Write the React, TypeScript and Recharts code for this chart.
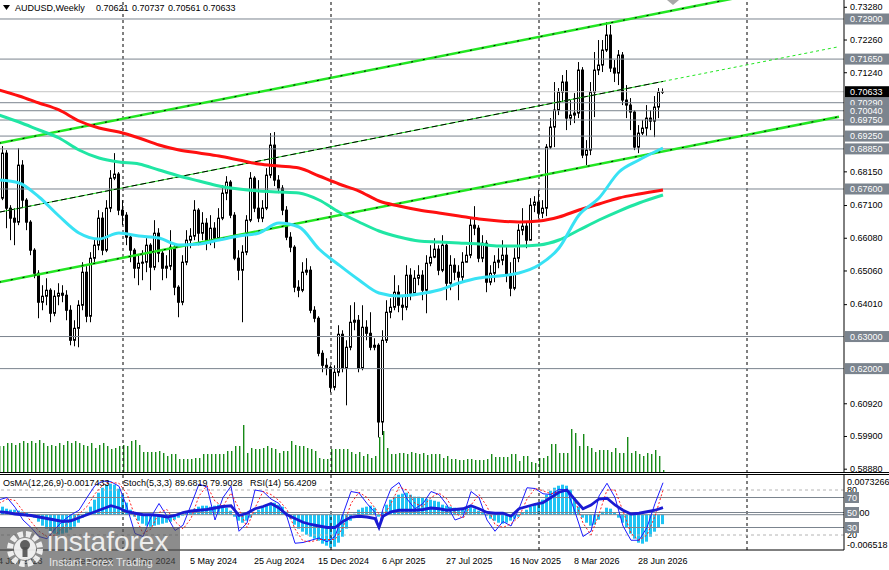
import React from "react";
import { ComposedChart, Bar, Line, XAxis, YAxis, ReferenceLine } from "recharts";

// AUDUSD weekly, index 0 = week of 4 Jun 2023
const closes = [
    0.67314, 0.68718, 0.67002, 0.66690, 0.66566, 0.68344, 0.67252, 0.66566, 0.65692, 0.64974,
    0.64070, 0.64257, 0.64444, 0.63726, 0.64257, 0.64350, 0.64288, 0.63820, 0.62884, 0.63258,
    0.63976, 0.65006, 0.63633, 0.65442, 0.65848, 0.66690, 0.65692, 0.67002, 0.67938, 0.68064,
    0.66940, 0.66784, 0.66098, 0.65692, 0.65130, 0.65286, 0.65318, 0.65848, 0.65162, 0.66222,
    0.65598, 0.65130, 0.65193, 0.65786, 0.64538, 0.64070, 0.65318, 0.66004, 0.66130, 0.66940,
    0.66222, 0.66534, 0.65942, 0.66378, 0.66066, 0.66690, 0.67470, 0.67814, 0.66784, 0.65442,
    0.65068, 0.65630, 0.66628, 0.67938, 0.67002, 0.66690, 0.67002, 0.68032, 0.68968, 0.67876,
    0.67626, 0.66940, 0.66098, 0.65786, 0.64538, 0.64444, 0.65006, 0.65068, 0.63820, 0.63570,
    0.62478, 0.62104, 0.62042, 0.61418, 0.61886, 0.63071, 0.62010, 0.62666, 0.63446, 0.63508,
    0.62010, 0.63290, 0.63102, 0.62666, 0.62728, 0.60336, 0.62884, 0.63758, 0.63914, 0.64382,
    0.63976, 0.63914, 0.64912, 0.64350, 0.64818, 0.64912, 0.64444, 0.65286, 0.65474, 0.65724,
    0.65068, 0.65848, 0.64662, 0.65224, 0.65006, 0.64850, 0.65318, 0.65536, 0.66472, 0.66378,
    0.65442, 0.65910, 0.64694, 0.64974, 0.65318, 0.65380, 0.65536, 0.64912, 0.64506, 0.65442,
    0.66316, 0.66441, 0.66004, 0.67096, 0.67190, 0.66846, 0.67002, 0.68906, 0.69530, 0.70060,
    0.70622, 0.70934, 0.69810, 0.69904, 0.69966, 0.71308, 0.68656, 0.68812, 0.70622, 0.71308,
    0.71464, 0.71932, 0.72400, 0.71370, 0.71214, 0.71776, 0.70372, 0.70216, 0.69998, 0.68906,
    0.69342, 0.69498, 0.69810, 0.69717, 0.70154, 0.70621, 0.70633,
];
const highs = [
    0.67564, 0.68937, 0.68812, 0.67096, 0.67002, 0.68874, 0.68500, 0.67314, 0.66628, 0.65754,
    0.65068, 0.64600, 0.64818, 0.64506, 0.64444, 0.64662, 0.64600, 0.64444, 0.63976, 0.63508,
    0.64132, 0.65318, 0.65193, 0.65630, 0.66066, 0.66940, 0.66878, 0.67252, 0.68188, 0.68718,
    0.68126, 0.67252, 0.66878, 0.66160, 0.65754, 0.65536, 0.65692, 0.66066, 0.65910, 0.66628,
    0.66378, 0.65692, 0.65536, 0.66316, 0.65848, 0.64600, 0.65536, 0.66316, 0.66378, 0.67252,
    0.67002, 0.66878, 0.66690, 0.66784, 0.66566, 0.67002, 0.67720, 0.68000, 0.67876, 0.66878,
    0.65692, 0.65848, 0.66784, 0.68126, 0.68000, 0.67876, 0.67252, 0.68250, 0.69342, 0.69374,
    0.68032, 0.67720, 0.67065, 0.66254, 0.65848, 0.64756, 0.65318, 0.65442, 0.65193, 0.63945,
    0.63633, 0.62572, 0.62322, 0.62104, 0.62104, 0.63352, 0.63196, 0.62884, 0.63976, 0.64070,
    0.63671, 0.63976, 0.63508, 0.63758, 0.62946, 0.62790, 0.63196, 0.64132, 0.64194, 0.64912,
    0.64600, 0.64288, 0.65224, 0.65130, 0.65068, 0.65224, 0.65068, 0.65536, 0.65848, 0.66066,
    0.65848, 0.66160, 0.65910, 0.65536, 0.65442, 0.65224, 0.65630, 0.65817, 0.66690, 0.67065,
    0.66472, 0.66160, 0.66004, 0.65224, 0.65536, 0.65754, 0.66004, 0.65786, 0.65318, 0.65754,
    0.66503, 0.67002, 0.66566, 0.67314, 0.67377, 0.67564, 0.67252, 0.68999, 0.69810, 0.70934,
    0.70746, 0.71152, 0.71308, 0.70372, 0.70590, 0.71558, 0.71400, 0.69124, 0.70934, 0.71870,
    0.72244, 0.72244, 0.72806, 0.72712, 0.71620, 0.71932, 0.71870, 0.70840, 0.70434, 0.70060,
    0.69592, 0.69748, 0.70216, 0.70060, 0.70497, 0.70746, 0.70737,
];
const lows = [
    0.67096, 0.67252, 0.66378, 0.66004, 0.65848, 0.66472, 0.67002, 0.66316, 0.65536, 0.64818,
    0.63570, 0.63820, 0.63976, 0.63446, 0.63633, 0.63976, 0.64070, 0.63508, 0.62728, 0.62697,
    0.62666, 0.63820, 0.63446, 0.63446, 0.65318, 0.65692, 0.65536, 0.65630, 0.66878, 0.67876,
    0.66784, 0.66472, 0.65848, 0.65318, 0.64818, 0.64600, 0.64756, 0.65006, 0.64444, 0.65068,
    0.65318, 0.64756, 0.64818, 0.65068, 0.64288, 0.63602, 0.63976, 0.65224, 0.65754, 0.66004,
    0.65848, 0.66004, 0.65692, 0.65848, 0.65754, 0.66004, 0.66628, 0.67252, 0.66690, 0.65380,
    0.64756, 0.63446, 0.65536, 0.66566, 0.66878, 0.66566, 0.66566, 0.66940, 0.67938, 0.67690,
    0.67470, 0.66784, 0.66004, 0.65630, 0.64382, 0.64226, 0.64382, 0.64912, 0.63726, 0.63446,
    0.62385, 0.61886, 0.61792, 0.61262, 0.61324, 0.61761, 0.61886, 0.60856, 0.62572, 0.63196,
    0.61886, 0.61948, 0.62884, 0.62572, 0.62572, 0.59854, 0.59930, 0.62800, 0.63570, 0.63820,
    0.63758, 0.63508, 0.63820, 0.64132, 0.64288, 0.64600, 0.64132, 0.63726, 0.65193, 0.65442,
    0.64912, 0.65006, 0.64132, 0.64444, 0.64756, 0.64132, 0.64694, 0.65318, 0.65442, 0.66160,
    0.65318, 0.65318, 0.64382, 0.64600, 0.64694, 0.65130, 0.65224, 0.64694, 0.64257, 0.64444,
    0.65318, 0.66160, 0.65754, 0.66004, 0.66878, 0.66690, 0.66690, 0.66753, 0.68850, 0.68906,
    0.69904, 0.70310, 0.69436, 0.69592, 0.69654, 0.69810, 0.68562, 0.68344, 0.68656, 0.69842,
    0.71152, 0.71246, 0.71870, 0.71246, 0.70934, 0.70840, 0.70216, 0.69810, 0.69436, 0.68812,
    0.68718, 0.69280, 0.69248, 0.69436, 0.69218, 0.69810, 0.70561,
];
const firstOpen = 0.67252;

// tick volume, thousands
const volumes = [
    27, 27, 30, 30, 28, 30, 32, 30, 32, 30,
    33, 30, 27, 28, 27, 30, 28, 32, 30, 32,
    30, 28, 27, 30, 25, 28, 30, 27, 24, 25,
    27, 28, 27, 32, 33, 28, 21, 21, 21, 21,
    22, 20, 17, 19, 19, 14, 14, 14, 14, 15,
    15, 19, 19, 19, 19, 19, 19, 22, 22, 27,
    27, 48, 20, 25, 24, 24, 25, 27, 25, 24,
    20, 22, 22, 32, 28, 27, 27, 25, 24, 22,
    15, 14, 14, 24, 24, 24, 24, 24, 21, 19,
    21, 17, 19, 15, 17, 36, 42, 25, 19, 19,
    20, 20, 19, 21, 20, 19, 20, 18, 19, 19,
    19, 15, 17, 14, 14, 13, 13, 14, 14, 13,
    13, 13, 14, 19, 16, 16, 16, 16, 19, 19,
    12, 17, 17, 11, 10, 15, 15, 17, 29, 29,
    20, 20, 20, 44, 40, 27, 39, 27, 25, 21,
    23, 23, 23, 21, 25, 20, 20, 36, 20, 22,
    19, 17, 20, 19, 23, 17, 3,
];

// moving averages, read every 5 weeks
const maIdx = [0, 5, 10, 15, 20, 25, 30, 35, 40, 45, 50, 55, 60, 65, 70, 75, 80, 85, 90, 95, 100, 105, 110, 115, 120, 125, 130, 135, 140, 145, 150, 155, 160, 166];
const maSlow = [
    0.70686, 0.70499, 0.70281, 0.70063, 0.69720, 0.69501, 0.69377, 0.69190, 0.68971, 0.68816,
    0.68722, 0.68628, 0.68504, 0.68379, 0.68317, 0.68254, 0.68005, 0.67756, 0.67537, 0.67226,
    0.67070, 0.66945, 0.66851, 0.66758, 0.66664, 0.66602, 0.66571, 0.66602, 0.66727, 0.66945,
    0.67132, 0.67319, 0.67444, 0.67568,
];
const maMid = [
    0.69907, 0.69688, 0.69439, 0.69190, 0.68816, 0.68566, 0.68441, 0.68379, 0.68192, 0.68005,
    0.67849, 0.67693, 0.67599, 0.67537, 0.67506, 0.67475, 0.67257, 0.66883, 0.66571, 0.66291,
    0.66104, 0.65979, 0.65948, 0.65916, 0.65885, 0.65823, 0.65823, 0.65854, 0.66010, 0.66321,
    0.66633, 0.66912, 0.67163, 0.67413,
];
const maFast = [
    0.67880, 0.67787, 0.67350, 0.66758, 0.66228, 0.66041, 0.66228, 0.66134, 0.66072, 0.65854,
    0.65885, 0.66010, 0.66134, 0.66228, 0.66540, 0.66415, 0.65729, 0.65230, 0.64762, 0.64357,
    0.64264, 0.64326, 0.64451, 0.64669, 0.64825, 0.64887, 0.64981, 0.65230, 0.65762, 0.66789,
    0.67319, 0.68130, 0.68504, 0.68878,
];

const osma = [
    0.00148, 0.00148, 0.00111, 0.00092, 0.00092, 0.00074, 0.00055, 0.00037, 0.00009, -0.00055,
    -0.00129, -0.00203, -0.00258, -0.00314, -0.00351, -0.00369, -0.00351, -0.00332, -0.00277, -0.00222,
    -0.00148, -0.00055, 0.00055, 0.00148, 0.00277, 0.00406, 0.00498, 0.00554, 0.00572, 0.00554,
    0.00480, 0.00369, 0.00222, 0.00092, -0.00037, -0.00111, -0.00166, -0.00203, -0.00222, -0.00203,
    -0.00185, -0.00166, -0.00148, -0.00129, -0.00092, -0.00055, -0.00018, 0.00037, 0.00074, 0.00111,
    0.00148, 0.00166, 0.00166, 0.00148, 0.00166, 0.00185, 0.00148, 0.00129, 0.00074, -0.00037,
    -0.00111, -0.00148, -0.00111, -0.00055, 0.00037, 0.00092, 0.00148, 0.00185, 0.00203, 0.00222,
    0.00185, 0.00148, 0.00055, -0.00074, -0.00185, -0.00258, -0.00314, -0.00369, -0.00406, -0.00443,
    -0.00480, -0.00535, -0.00572, -0.00609, -0.00591, -0.00517, -0.00406, -0.00258, -0.00111, 0.00018,
    0.00092, 0.00129, 0.00148, 0.00166, 0.00129, -0.00037, 0.00055, 0.00185, 0.00277, 0.00332,
    0.00369, 0.00388, 0.00406, 0.00369, 0.00332, 0.00332, 0.00314, 0.00295, 0.00277, 0.00258,
    0.00240, 0.00185, 0.00166, 0.00148, 0.00129, 0.00111, 0.00111, 0.00129, 0.00148, 0.00111,
    0.00074, 0.00037, -0.00018, -0.00074, -0.00111, -0.00148, -0.00166, -0.00148, -0.00111, -0.00074,
    -0.00037, 0.00037, 0.00092, 0.00148, 0.00185, 0.00222, 0.00277, 0.00369, 0.00443, 0.00498,
    0.00535, 0.00554, 0.00535, 0.00462, 0.00314, 0.00148, -0.00055, -0.00148, -0.00203, -0.00185,
    -0.00092, 0.00055, 0.00129, 0.00111, 0.00037, -0.00055, -0.00148, -0.00240, -0.00351, -0.00443,
    -0.00517, -0.00535, -0.00498, -0.00406, -0.00314, -0.00240, -0.0017433,
];

// oscillators, read every 2 weeks
const oscIdx = [
    0, 2, 4, 6, 8, 10, 12, 14, 16, 18, 20, 22, 24, 26, 28, 30, 32, 34, 36, 38,
    40, 42, 44, 46, 48, 50, 52, 54, 56, 58, 60, 62, 64, 66, 68, 70, 72, 74, 76, 78,
    80, 82, 84, 86, 88, 90, 92, 94, 95, 96, 98, 100, 102, 104, 106, 108, 110, 112, 114, 116,
    118, 120, 122, 124, 126, 128, 130, 132, 134, 136, 138, 140, 142, 144, 146, 148, 150, 152, 154, 156,
    158, 160, 162, 164, 166,
];
const stochMain = [
    67, 70, 57, 40, 30, 18, 15, 28, 39, 47, 53, 70, 86, 92, 91, 85, 57, 22, 18, 44,
    62, 45, 26, 33, 60, 88, 84, 40, 70, 85, 25, 36, 80, 78, 68, 62, 44, 9, 10, 13,
    16, 11, 18, 48, 78, 76, 62, 50, 31, 55, 82, 90, 68, 55, 62, 78, 74, 60, 40, 44,
    78, 70, 40, 25, 38, 32, 55, 83, 82, 75, 74, 81, 80, 51, 18, 25, 72, 89, 70, 32,
    13, 13, 30, 62, 89.6819,
];
const stochSignal = [
    62, 68, 66, 52, 38, 25, 18, 20, 30, 40, 48, 58, 75, 87, 90, 89, 75, 45, 22, 28,
    50, 54, 38, 28, 42, 72, 86, 65, 58, 76, 55, 30, 56, 78, 74, 66, 54, 28, 12, 11,
    14, 14, 14, 30, 62, 77, 70, 56, 48, 44, 62, 84, 80, 62, 58, 70, 76, 68, 50, 42,
    60, 74, 58, 34, 30, 35, 44, 68, 82, 79, 75, 78, 81, 66, 36, 20, 48, 80, 80, 52,
    22, 13, 20, 45, 79.9028,
];
const rsi = [
    51, 50, 48, 47, 46, 44, 42, 40, 38, 39, 43, 47, 51, 55, 59, 56, 51, 49, 47, 47,
    46, 44, 46, 50, 52, 53, 54, 56, 58, 59, 46, 49, 55, 58, 62, 56, 47, 42, 37, 34,
    32, 30, 30, 38, 44, 45, 44, 42, 30, 45, 51, 53, 53, 53, 54, 56, 55, 53, 54, 55,
    59, 55, 50, 49, 49, 45, 55, 58, 61, 63, 70, 77, 80, 67, 55, 60, 68, 69, 60, 53,
    48, 49, 51, 53, 56.4209,
];

const levels = [0.729, 0.7165, 0.7029, 0.7004, 0.6975, 0.6925, 0.6885, 0.676, 0.63, 0.62];
const bidPrice = 0.70633;
const priceTicks = [0.7328, 0.7226, 0.7124, 0.6815, 0.671, 0.6608, 0.6506, 0.6401, 0.6092, 0.599, 0.5888];
const yearStarts = [31, 83, 135, 187];
const dateIdx = [0, 16, 32, 48, 64, 80, 96, 112, 128, 144, 160];
const dateLabels = ["4 Jun 2023", "24 Sep 2023", "14 Jan 2024", "5 May 2024", "25 Aug 2024", "15 Dec 2024", "6 Apr 2025", "27 Jul 2025", "16 Nov 2025", "8 Mar 2026", "28 Jun 2026"];

// trend channel anchors [week index, price]
const channelUpper = [[0, 0.69027], [210, 0.74187]];
const channelMid = [[0, 0.66876], [166, 0.70954]];
const channelMidExt = [[166, 0.70954], [210, 0.72036]];
const channelLower = [[0, 0.64694], [210, 0.69854]];

const FONT = "Liberation Sans, Arial, sans-serif";
const FS = 9;
const X_DOMAIN = [0.25, 211.25];

const rows: any[] = closes.map((c, i) => ({
    i,
    o: i === 0 ? firstOpen : closes[i - 1],
    h: highs[i],
    l: lows[i],
    c,
    vol: volumes[i],
    osma: osma[i],
}));
maIdx.forEach((idx, k) => {
    rows[idx].slow = maSlow[k];
    rows[idx].mid = maMid[k];
    rows[idx].fast = maFast[k];
});
oscIdx.forEach((idx, k) => {
    rows[idx].stoch = stochMain[k];
    rows[idx].signal = stochSignal[k];
    rows[idx].rsi = rsi[k];
});

const seg = (pts: number[][]) => pts.map(([x, y]) => ({ x, y }));

const Candle = (props: any) => {
    const { x, y, width, height, payload } = props;
    const { o, h, l, c } = payload;
    const top = Math.min(y, y + height);
    const span = Math.abs(height);
    const py = (p: number) => (h === l ? top : top + ((h - p) / (h - l)) * span);
    const cx = Math.floor(x + width / 2) + 0.5;
    const yo = py(o);
    const yc = py(c);
    const bt = Math.min(yo, yc);
    const bb = Math.max(yo, yc);
    const up = c >= o;
    return (
        <g>
            <line x1={cx} x2={cx} y1={top} y2={top + span} stroke="#000" strokeWidth={1} />
            <rect x={cx - 1} y={bt} width={2} height={Math.max(bb - bt, 0.5)} fill={up ? "#fff" : "#000"} stroke="#000" strokeWidth={1} />
        </g>
    );
};

const VolumeBar = (props: any) => {
    const { x, y, width, height, fill } = props;
    const cx = Math.floor(x + width / 2);
    return <rect x={cx} y={y} width={1.4} height={height} fill={fill} />;
};

const PriceTick = (props: any) => {
    const { x, y, payload } = props;
    const v = payload.value;
    const txt = v.toFixed(5);
    const isBid = Math.abs(v - bidPrice) < 1e-7;
    const isLevel = levels.some((l) => Math.abs(l - v) < 1e-7);
    if (isBid || isLevel) {
        return (
            <g>
                <rect x={x + 1} y={y - 5.5} width={44} height={11} fill={isBid ? "#000" : "#7b848e"} />
                <text x={x + 6} y={y + 3.3} fill="#fff" fontSize={FS} fontFamily={FONT}>{txt}</text>
            </g>
        );
    }
    return (
        <g>
            <line x1={x} x2={x + 3} y1={y + 0.5} y2={y + 0.5} stroke="#000" />
            <text x={x + 6} y={y + 3.3} fill="#000" fontSize={FS} fontFamily={FONT}>{txt}</text>
        </g>
    );
};

const OscTick = (props: any) => {
    const { x, y, payload } = props;
    const v = payload.value;
    const boxed = v === 70 || v === 50 || v === 30;
    if (boxed) {
        return (
            <g>
                {v === 50 && <text x={x + 3} y={y + 3.3} fill="#000" fontSize={FS} fontFamily={FONT}>0.000</text>}
                <rect x={x + 1} y={y - 5.5} width={14} height={11} fill="#7b848e" />
                <text x={x + 3} y={y + 3.3} fill="#fff" fontSize={FS} fontFamily={FONT}>{v}</text>
            </g>
        );
    }
    return <text x={x + 3} y={y + 3.3} fill="#000" fontSize={FS} fontFamily={FONT}>{v}</text>;
};

const DateTick = (props: any) => {
    const { x, y, payload } = props;
    const k = dateIdx.indexOf(payload.value);
    return (
        <text x={x - 1} y={y + 14} fill="#000" fontSize={FS} fontFamily={FONT} textAnchor="start">
            {dateLabels[k]}
        </text>
    );
};

const InstaLogo = () => (
    <svg width={46} height={42} style={{ position: "absolute", left: 4, top: 1 }}>
        <circle cx={21} cy={21} r={15} fill="none" stroke="rgba(255,255,255,0.85)" strokeWidth={6} strokeDasharray="5 2.9" />
        <circle cx={21} cy={21} r={11} fill="rgba(255,255,255,0.85)" />
        <circle cx={21} cy={17} r={5} fill="rgba(80,80,80,0.9)" />
        <rect x={18.5} y={19} width={5} height={10} fill="rgba(80,80,80,0.9)" />
    </svg>
);

const App = () => {
    const allPriceTicks = [...priceTicks, ...levels, bidPrice];
    return (
        <div style={{ position: "fixed", left: 0, top: 0, width: 889, height: 570, background: "#fff", overflow: "hidden" }}>
            {/* volume, behind the candles */}
            <div style={{ position: "absolute", left: 0, top: 0 }}>
                <ComposedChart width={844} height={473} data={rows} margin={{ top: 0, right: 0, bottom: 0, left: 0 }}>
                    <XAxis dataKey="i" type="number" domain={X_DOMAIN} allowDataOverflow hide height={0} />
                    <YAxis yAxisId="v" domain={[0, 473]} allowDataOverflow hide width={0} />
                    <Bar yAxisId="v" dataKey="vol" fill="#178a17" barSize={2} shape={<VolumeBar />} isAnimationActive={false} />
                </ComposedChart>
            </div>

            {/* price panel */}
            <div style={{ position: "absolute", left: 0, top: 0 }}>
                <ComposedChart width={889} height={473} data={rows} margin={{ top: 0, right: 0, bottom: 0, left: 0 }}>
                    <XAxis dataKey="i" type="number" domain={X_DOMAIN} allowDataOverflow hide height={0} />
                    <YAxis
                        yAxisId="p"
                        orientation="right"
                        width={45}
                        domain={[0.58746, 0.73492]}
                        allowDataOverflow
                        ticks={allPriceTicks}
                        interval={0}
                        tick={<PriceTick />}
                        tickLine={false}
                        tickSize={0}
                        tickMargin={0}
                        axisLine={{ stroke: "#000" }}
                    />
                    {yearStarts.map((x) => (
                        <ReferenceLine key={"yr" + x} yAxisId="p" x={x} stroke="#000" strokeDasharray="3 3" ifOverflow="hidden" />
                    ))}
                    {levels.map((p) => (
                        <ReferenceLine key={"lv" + p} yAxisId="p" y={p} stroke="#7b848e" strokeWidth={1} />
                    ))}
                    <ReferenceLine yAxisId="p" y={bidPrice} stroke="#c4c4c4" strokeWidth={1} />

                    <ReferenceLine yAxisId="p" segment={seg(channelUpper)} stroke="#22e622" strokeWidth={2.5} ifOverflow="hidden" />
                    <ReferenceLine yAxisId="p" segment={seg(channelUpper)} stroke="#000" strokeWidth={1} strokeDasharray="2 10" ifOverflow="hidden" />
                    <ReferenceLine yAxisId="p" segment={seg(channelLower)} stroke="#22e622" strokeWidth={2.5} ifOverflow="hidden" />
                    <ReferenceLine yAxisId="p" segment={seg(channelLower)} stroke="#000" strokeWidth={1} strokeDasharray="2 10" ifOverflow="hidden" />
                    <ReferenceLine yAxisId="p" segment={seg(channelMid)} stroke="#22e622" strokeWidth={1} ifOverflow="hidden" />
                    <ReferenceLine yAxisId="p" segment={seg(channelMid)} stroke="#000" strokeWidth={1} strokeDasharray="6 3" ifOverflow="hidden" />
                    <ReferenceLine yAxisId="p" segment={seg(channelMidExt)} stroke="#22e622" strokeWidth={1} strokeDasharray="3 3" ifOverflow="hidden" />

                    <Bar yAxisId="p" dataKey={(d: any) => [d.l, d.h]} barSize={3} shape={<Candle />} isAnimationActive={false} />

                    <Line yAxisId="p" type="monotone" dataKey="slow" stroke="#ff1010" strokeWidth={3} dot={false} connectNulls isAnimationActive={false} />
                    <Line yAxisId="p" type="monotone" dataKey="mid" stroke="#20e6a4" strokeWidth={3} dot={false} connectNulls isAnimationActive={false} />
                    <Line yAxisId="p" type="monotone" dataKey="fast" stroke="#38e2f4" strokeWidth={3} dot={false} connectNulls isAnimationActive={false} />
                </ComposedChart>
            </div>

            {/* oscillator panel */}
            <div style={{ position: "absolute", left: 0, top: 474 }}>
                <ComposedChart width={889} height={96} data={rows} margin={{ top: 1, right: 0, bottom: 0, left: 0 }}>
                    <XAxis
                        dataKey="i"
                        type="number"
                        domain={X_DOMAIN}
                        allowDataOverflow
                        ticks={dateIdx}
                        interval={0}
                        tick={<DateTick />}
                        tickLine={false}
                        tickSize={0}
                        tickMargin={0}
                        height={20}
                        axisLine={{ stroke: "#000" }}
                    />
                    <YAxis
                        yAxisId="osc"
                        orientation="right"
                        width={45}
                        domain={[0, 100]}
                        allowDataOverflow
                        ticks={[80, 20, 70, 30, 50]}
                        interval={0}
                        tick={<OscTick />}
                        tickLine={false}
                        tickSize={0}
                        tickMargin={0}
                        axisLine={{ stroke: "#000" }}
                    />
                    <YAxis yAxisId="m" domain={[-0.006518, 0.0073266]} allowDataOverflow hide width={0} />
                    {yearStarts.map((x) => (
                        <ReferenceLine key={"syr" + x} yAxisId="osc" x={x} stroke="#000" strokeDasharray="3 3" ifOverflow="hidden" />
                    ))}
                    <ReferenceLine yAxisId="osc" y={80} stroke="#b4b4b4" strokeDasharray="3 3" />
                    <ReferenceLine yAxisId="osc" y={20} stroke="#b4b4b4" strokeDasharray="3 3" />
                    <ReferenceLine yAxisId="osc" y={70} stroke="#7b848e" />
                    <ReferenceLine yAxisId="osc" y={50} stroke="#7b848e" />
                    <ReferenceLine yAxisId="osc" y={30} stroke="#7b848e" />
                    <ReferenceLine yAxisId="m" y={0} stroke="#7b848e" />

                    <Bar yAxisId="m" dataKey="osma" fill="#20c4f4" barSize={3} isAnimationActive={false} />
                    <Line yAxisId="osc" type="linear" dataKey="stoch" stroke="#1c1cff" strokeWidth={1} dot={false} connectNulls isAnimationActive={false} />
                    <Line yAxisId="osc" type="linear" dataKey="signal" stroke="#ff2020" strokeWidth={1} strokeDasharray="2 2" dot={false} connectNulls isAnimationActive={false} />
                    <Line yAxisId="osc" type="linear" dataKey="rsi" stroke="#1a1ad2" strokeWidth={2.8} dot={false} connectNulls isAnimationActive={false} />
                </ComposedChart>
            </div>

            {/* frame, captions */}
            <svg width={889} height={570} style={{ position: "absolute", left: 0, top: 0, pointerEvents: "none" }}>
                <line x1={0} x2={889} y1={472.5} y2={472.5} stroke="#000" />
                <line x1={0} x2={889} y1={474.5} y2={474.5} stroke="#000" />
                <polygon points="667,0 679,0 673,5" fill="#a8a8a8" />
                <polygon points="3,5 10,5 6.5,10" fill="#000" />
                <g fontFamily={FONT} fontSize={FS} fill="#000">
                    <text x={15} y={11}>AUDUSD,Weekly</text>
                    <text x={96} y={11}>0.70621</text>
                    <text x={132} y={11}>0.70737</text>
                    <text x={168} y={11}>0.70561</text>
                    <text x={203} y={11}>0.70633</text>
                    <text x={3} y={486}>OsMA(12,26,9)</text>
                    <text x={64} y={486}>-0.0017433</text>
                    <text x={123} y={486}>Stoch(5,3,3)</text>
                    <text x={175} y={486}>89.6819</text>
                    <text x={210} y={486}>79.9028</text>
                    <text x={250} y={486}>RSI(14)</text>
                    <text x={284} y={486}>56.4209</text>
                    <text x={847} y={485}>0.0073266</text>
                    <text x={847} y={548}>-0.006518</text>
                </g>
            </svg>

            {/* watermark */}
            <div style={{ position: "absolute", left: 0, top: 527, width: 180, height: 43, background: "rgba(80,80,80,0.66)" }}>
                <InstaLogo />
                <div style={{ position: "absolute", left: 47, top: 0, fontFamily: FONT, fontSize: 28, color: "rgba(255,255,255,0.85)", lineHeight: "30px" }}>
                    instaforex
                </div>
                <div style={{ position: "absolute", left: 49, top: 29, fontFamily: FONT, fontSize: 11, color: "rgba(255,255,255,0.8)", lineHeight: "12px" }}>
                    Instant Forex Trading
                </div>
            </div>
        </div>
    );
};

export default App;
